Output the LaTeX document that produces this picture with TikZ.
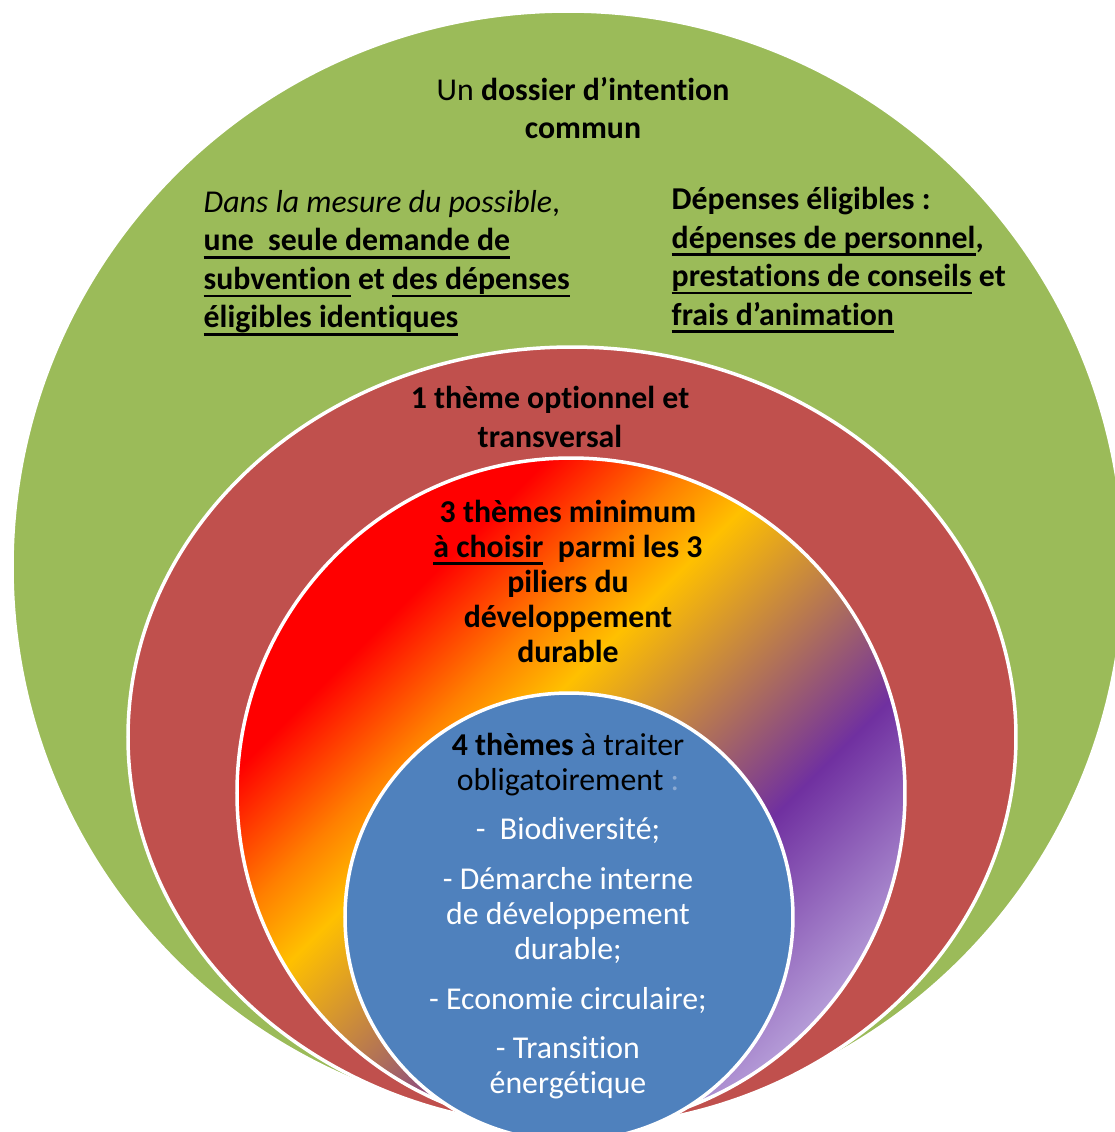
\documentclass[tikz,border=0pt]{standalone}
\usepackage{fontspec}
\setmainfont{Carlito}[Ligatures=NoCommon]
\newcommand{\souligne}[1]{\setbox0\hbox{#1}\rlap{\vrule height -1.45pt depth 2.2pt width \wd0}\box0\relax}

\definecolor{leafgreen}{HTML}{9BBB59}
\definecolor{brickred}{HTML}{C0504D}
\definecolor{steelblue}{HTML}{4F81BD}
\definecolor{colonblue}{RGB}{140,170,210}
\definecolor{rbRed}{RGB}{255,0,0}
\definecolor{rbOrange}{RGB}{255,128,0}
\definecolor{rbGold}{HTML}{FFC000}
\definecolor{rbPurple}{HTML}{7030A0}
\definecolor{rbLilac}{RGB}{180,155,215}

\pgfdeclarehorizontalshading{rainbowring}{100bp}{%
  color(0bp)=(rbRed); color(31bp)=(rbRed); color(39bp)=(rbOrange);
  color(44bp)=(rbGold); color(62bp)=(rbPurple); color(75bp)=(rbLilac);
  color(100bp)=(rbLilac)}

\begin{document}
\begin{tikzpicture}[
    x=0.1mm, y=-0.1mm,
    disc/.style={draw=white, line width=0.35mm},
    wide/.style={
        inner sep=0pt,
        font=\fontsize{9.05}{10.95}\selectfont
    },
    tight/.style={
        inner sep=0pt,
        align=center,
        font=\fontsize{9.05}{10.05}\selectfont
    }
]
\useasboundingbox (0,0) rectangle (1115,1132);
\clip (0,0) rectangle (1115,1132);

% Nested discs
\draw[disc, fill=leafgreen] (568,567) ellipse [x radius=556, y radius=556];
\draw[disc, fill=brickred] (572,737) ellipse [x radius=444, y radius=390];
\draw[disc, shading=rainbowring, shading angle=-45] (571,793) ellipse [x radius=334, y radius=335];
\draw[disc, fill=steelblue] (569,917) circle [radius=224];

% Outer ring
\node[wide, align=center] (dossier) at (583,108) {Un \textbf{dossier d’intention}\\\textbf{commun}};
\node[wide, align=left, anchor=west] (demande) at (203,263) {%
\textit{Dans la mesure du possible},\\
\textbf{\souligne{une~~seule demande de}}\\
\textbf{\souligne{subvention} et \souligne{des dépenses}}\\
\textbf{\souligne{éligibles identiques}}};
\node[wide, align=left, anchor=west] (depenses) at (671,260) {%
\textbf{Dépenses éligibles :}\\
\textbf{\souligne{dépenses de personnel},}\\
\textbf{\souligne{prestations de conseils} et}\\
\textbf{\souligne{frais d’animation}}};

% Inner rings
\node[wide, align=center] (optionnel) at (550,417) {\textbf{1 thème optionnel et}\\\textbf{transversal}};
\node[tight, font=\bfseries\fontsize{9.05}{9.96}\selectfont] (piliers) at (568,581) {%
3 thèmes minimum\\
\souligne{à choisir}~~parmi les 3\\
piliers du\\
développement\\
durable};
\node[tight, text=white] (obligatoire) at (568,916) {%
\textcolor{black}{\textbf{4 thèmes} à traiter}\\
\textcolor{black}{obligatoirement} \textcolor{colonblue}{:}\\[1.4mm]
-~~Biodiversité;\\[1.4mm]
- Démarche interne\\
de développement\\
durable;\\[1.4mm]
- Economie circulaire;\\[1.4mm]
- Transition\\
énergétique};

\end{tikzpicture}
\end{document}
